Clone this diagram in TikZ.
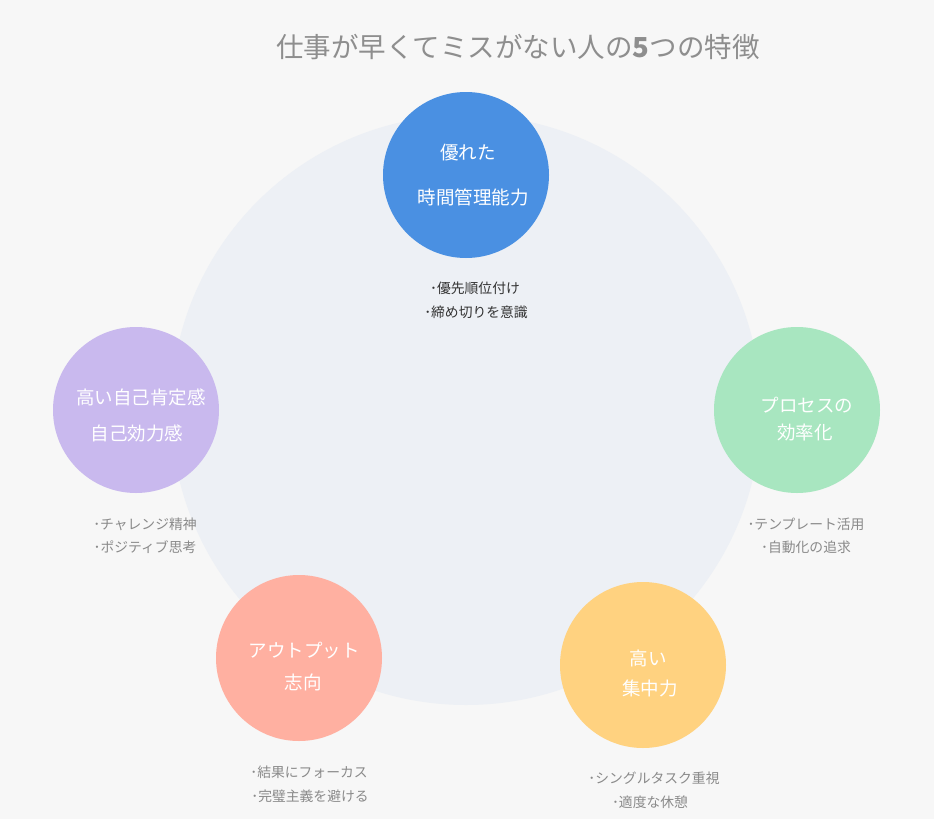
\documentclass[tikz,border=0pt]{standalone}
\usepackage{fontspec}
\setmainfont{Noto Sans CJK JP}
\definecolor{bggray}{HTML}{F7F7F7}
\definecolor{ringgray}{HTML}{EDF0F5}
\definecolor{titlegray}{HTML}{8E8E8E}
\definecolor{itemgray}{HTML}{8A8A8A}
\definecolor{itemdark}{HTML}{333333}
\definecolor{cblue}{HTML}{4A90E2}
\definecolor{cgreen}{HTML}{A8E6C0}
\definecolor{cyellow}{HTML}{FFD280}
\definecolor{csalmon}{HTML}{FFB0A1}
\definecolor{cpurple}{HTML}{C9B9EE}
\begin{document}
\begin{tikzpicture}[x=1pt,y=-1pt,
  feat/.style={circle,minimum size=166pt,inner sep=0pt},
  lbl/.style={text=white,font=\fontsize{18.5}{20}\selectfont,inner sep=0pt},
  item/.style={text=itemgray,font=\fontsize{13.8}{15}\selectfont,inner sep=0pt}]
\fill[bggray] (0,0) rectangle (934,819);
\useasboundingbox (0,0) rectangle (934,819);
\fill[ringgray] (466,410) circle (295pt);
\node[text=titlegray,font=\fontsize{27.5}{30}\selectfont,inner sep=0pt] (title) at (518,47) {仕事が早くてミスがない人の{\bfseries 5}つの特徴};
% time management
\node[feat,fill=cblue] (time) at (466,175) {};
\node[lbl] (time1) at (468,153) {優れた};
\node[lbl] (time2) at (473,197) {時間管理能力};
\node[item,text=itemdark] (time3) at (475,288) {･優先順位付け};
\node[item,text=itemdark] (time4) at (476,312) {･締め切りを意識};
% process
\node[feat,fill=cgreen] (proc) at (797,410) {};
\node[lbl] (proc1) at (807,405) {プロセスの};
\node[lbl] (proc2) at (805,433) {効率化};
\node[item] (proc3) at (806,524) {･テンプレート活用};
\node[item] (proc4) at (806,547) {･自動化の追求};
% focus
\node[feat,fill=cyellow] (focus) at (643,665) {};
\node[lbl] (focus1) at (648,658) {高い};
\node[lbl] (focus2) at (650,688) {集中力};
\node[item] (focus3) at (654,778) {･シングルタスク重視};
\node[item] (focus4) at (650,802) {･適度な休憩};
% output
\node[feat,fill=csalmon] (out) at (299,658) {};
\node[lbl] (out1) at (304,650) {アウトプット};
\node[lbl] (out2) at (303,682) {志向};
\node[item] (out3) at (309,772) {･結果にフォーカス};
\node[item] (out4) at (310,796) {･完璧主義を避ける};
% self esteem
\node[feat,fill=cpurple] (self) at (136,410) {};
\node[lbl] (self1) at (141,397) {高い自己肯定感};
\node[lbl] (self2) at (137,433) {自己効力感};
\node[item] (self3) at (145,524) {･チャレンジ精神};
\node[item] (self4) at (145,547) {･ポジティブ思考};
\end{tikzpicture}
\end{document}
